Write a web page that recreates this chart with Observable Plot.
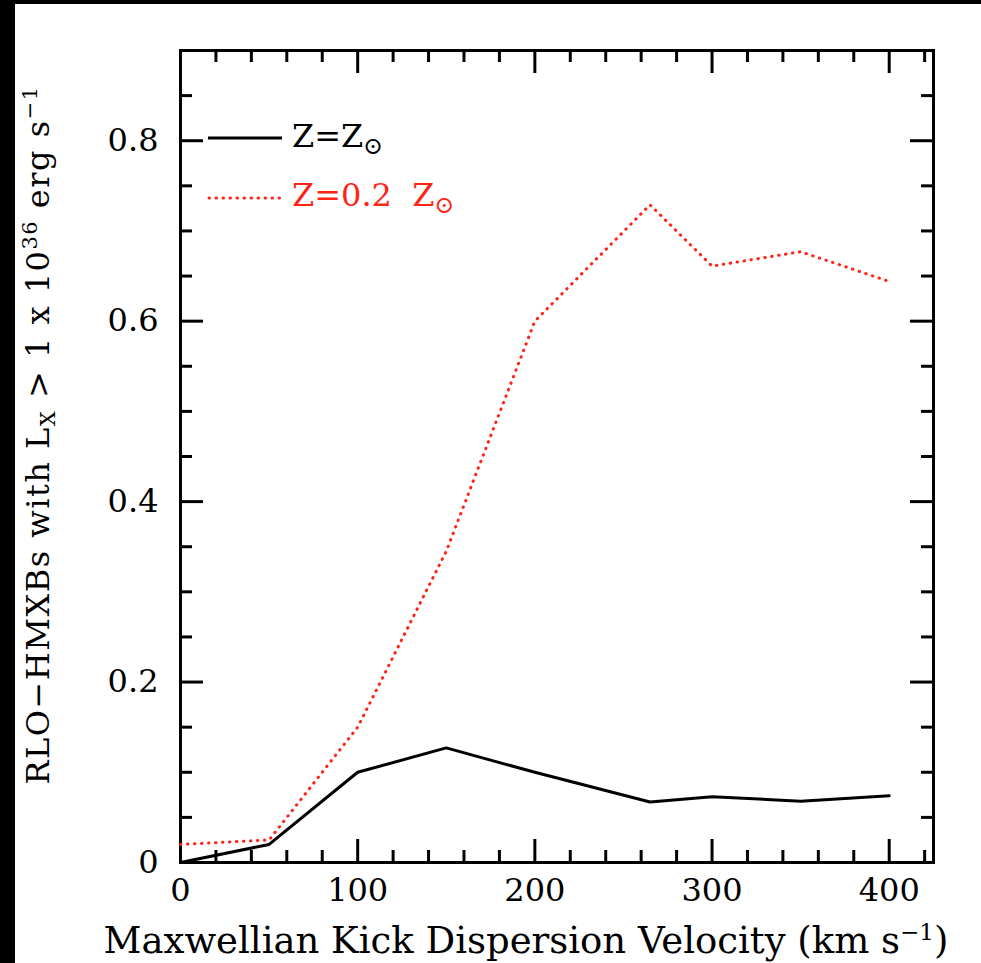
<!DOCTYPE html>
<html><head><meta charset="utf-8">
<script src="https://cdn.jsdelivr.net/npm/d3@7"></script>
<script src="https://cdn.jsdelivr.net/npm/@observablehq/plot@0.6"></script>
<style>
html,body{margin:0;padding:0;background:#000;width:981px;height:963px;overflow:hidden}
#chart{position:absolute;left:15px;top:4px;width:966px;height:959px;background:#fff}
#chart svg{display:block;background:#fff}
</style></head><body><div id="chart"></div>
<script>
// Data
const velocity = [0, 50, 100, 150, 200, 265, 300, 350, 400];
const solarZ   = [0.0, 0.02, 0.10, 0.127, 0.10, 0.067, 0.073, 0.068, 0.074];
const lowZ     = [0.02, 0.025, 0.15, 0.345, 0.60, 0.729, 0.661, 0.677, 0.644];
const xMajor = [0, 100, 200, 300, 400];
const xMinor = [20, 40, 60, 80, 120, 140, 160, 180, 220, 240, 260, 280, 320, 340, 360, 380, 420];
const yMajor = [0, 0.2, 0.4, 0.6, 0.8];
const yMinor = [0.05, 0.1, 0.15, 0.25, 0.3, 0.35, 0.45, 0.5, 0.55, 0.65, 0.7, 0.75, 0.85];
const yTickLabels = ["0", "0.2", "0.4", "0.6", "0.8"];
const seriesNames = ["Z=Z", "Z=0.2  Z"];

const solarRows = velocity.map((v, i) => ({v, f: solarZ[i]}));
const lowRows = velocity.map((v, i) => ({v, f: lowZ[i]}));

const W = 966, H = 959, mL = 165, mR = 48, mT = 46, mB = 101;
const iW = W - mL - mR, iH = H - mT - mB;
const FONT = "DejaVu Serif";
const RED = "#ff2416";
const MAJ = 23, MIN = 12;

function rich(sel, parts, small) {
  parts.forEach(([t, k]) => {
    const ts = sel.append("tspan").text(t);
    if (k === "sup") ts.attr("font-size", small).attr("baseline-shift", "55%");
    if (k === "sub") ts.attr("font-size", small).attr("baseline-shift", "-30%");
  });
}

function overlay(index, scales, values, dims) {
  const g = d3.create("svg:g").attr("font-family", FONT).attr("text-anchor", "start");
  const L = dims.marginLeft, T = dims.marginTop;
  // legend
  g.append("line").attr("x1", L + 28).attr("x2", L + 102).attr("y1", T + 88).attr("y2", T + 88)
    .attr("stroke", "#000").attr("stroke-width", 3);
  const t1 = g.append("text").attr("x", L + 112).attr("y", T + 85).attr("dy", "0.36em")
    .attr("font-size", 32).attr("fill", "#000");
  rich(t1, [[seriesNames[0], ""], ["\u2299", "sub"]], 24);
  g.append("line").attr("x1", L + 29).attr("x2", L + 102).attr("y1", T + 148).attr("y2", T + 148)
    .attr("stroke", RED).attr("stroke-width", 3).attr("stroke-linecap", "round").attr("stroke-dasharray", "0.5,6.5");
  const t2 = g.append("text").attr("x", L + 112).attr("y", T + 144).attr("dy", "0.36em")
    .attr("font-size", 32).attr("fill", RED).style("white-space", "pre");
  rich(t2, [[seriesNames[1], ""], ["\u2299", "sub"]], 24);
  // x axis title
  const xt = g.append("text").attr("x", 511).attr("y", 936).attr("dy", "0.36em")
    .attr("text-anchor", "middle").attr("font-size", 37).attr("fill", "#000");
  rich(xt, [["Maxwellian Kick Dispersion Velocity (km s", ""], ["\u22121", "sup"], [")", ""]], 23);
  // y axis title
  const yt = g.append("text").attr("transform", "translate(22,431) rotate(-90)").attr("dy", "0.36em")
    .attr("text-anchor", "middle").attr("font-size", 32).attr("letter-spacing", 1.5).attr("fill", "#000");
  rich(yt, [["RLO\u2212HMXBs with L", ""], ["X", "sub"], [" > 1 x 10", ""], ["36", "sup"], [" erg s", ""], ["\u22121", "sup"]], 21);
  return g.node();
}

const tickStyle = {stroke: "#000", strokeWidth: 3};
const plot = Plot.plot({
  width: W, height: H,
  marginLeft: mL, marginRight: mR, marginTop: mT, marginBottom: mB,
  style: {background: "#fff", fontFamily: FONT},
  x: {domain: [0, 425], axis: null},
  y: {domain: [0, 0.9], axis: null},
  marks: [
    // inward ticks: bottom, top
    Plot.tickX(xMajor, {x: d => d, insetTop: iH - MAJ, ...tickStyle}),
    Plot.tickX(xMinor, {x: d => d, insetTop: iH - MIN, ...tickStyle}),
    Plot.tickX(xMajor, {x: d => d, insetBottom: iH - MAJ, ...tickStyle}),
    Plot.tickX(xMinor, {x: d => d, insetBottom: iH - MIN, ...tickStyle}),
    // left, right
    Plot.tickY(yMajor, {y: d => d, insetRight: iW - MAJ, ...tickStyle}),
    Plot.tickY(yMinor, {y: d => d, insetRight: iW - MIN, ...tickStyle}),
    Plot.tickY(yMajor, {y: d => d, insetLeft: iW - MAJ, ...tickStyle}),
    Plot.tickY(yMinor, {y: d => d, insetLeft: iW - MIN, ...tickStyle}),
    Plot.frame({stroke: "#000", strokeWidth: 3}),
    Plot.line(lowRows, {x: "v", y: "f", stroke: RED, strokeWidth: 3, strokeLinecap: "round", strokeDasharray: "0.5,6.5"}),
    Plot.line(solarRows, {x: "v", y: "f", stroke: "#000", strokeWidth: 3}),
    Plot.text(xMajor, {x: d => d, text: d => String(d), frameAnchor: "bottom", lineAnchor: "top", dy: 16,
      fontSize: 32, fontFamily: FONT, fill: "#000"}),
    Plot.text(yMajor, {y: d => d, text: (d, i) => yTickLabels[i], frameAnchor: "left", textAnchor: "end", dx: -22,
      fontSize: 32, fontFamily: FONT, fill: "#000"}),
    overlay
  ]
});
document.getElementById("chart").appendChild(plot);
</script></body></html>
